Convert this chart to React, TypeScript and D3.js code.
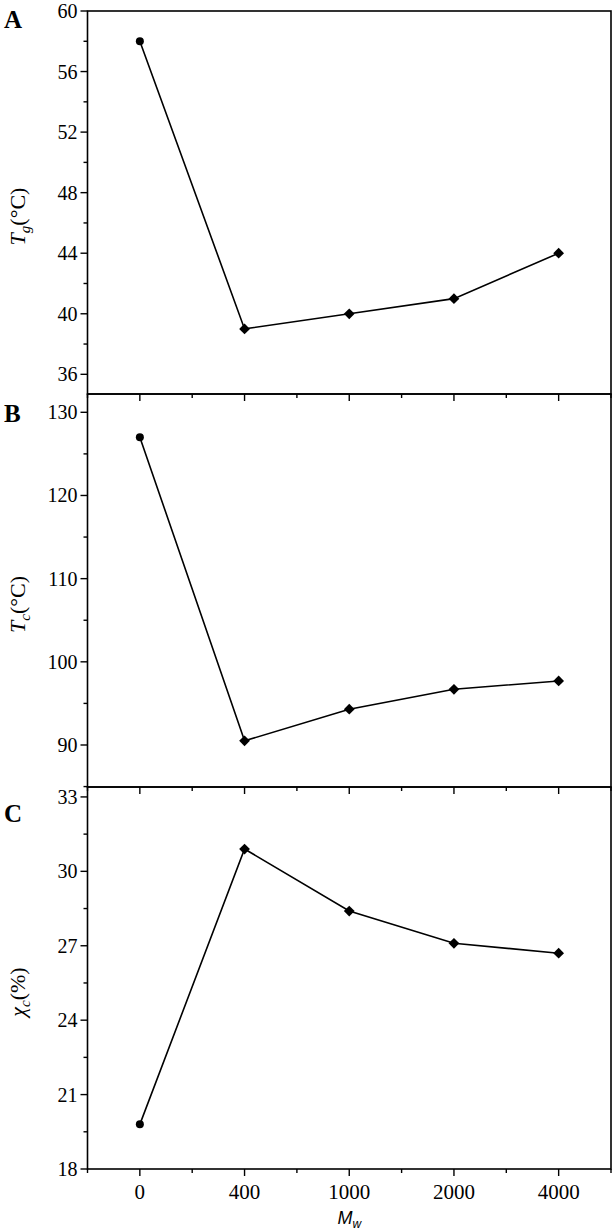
import React from "react";
import * as d3 from "d3";

const categories = ["0", "400", "1000", "2000", "4000"];
const tgValues = [58, 39, 40, 41, 44];
const tcValues = [127, 90.5, 94.3, 96.7, 97.7];
const xcValues = [19.8, 30.9, 28.4, 27.1, 26.7];
const tgTicks = [36, 40, 44, 48, 52, 56, 60];
const tcTicks = [90, 100, 110, 120, 130];
const xcTicks = [18, 21, 24, 27, 30, 33];

const W = 615;
const H = 1232;
const LEFT = 87.5;
const RIGHT = 611;
const FONT = "'Liberation Serif', 'Times New Roman', serif";

type Panel = {
  letter: string;
  values: number[];
  ticks: number[];
  minorStep: number;
  domain: [number, number];
  top: number;
  bottom: number;
  title: string;
  sub: string;
  unit: string;
  showLabels: boolean;
  letterY: number;
};

const panels: Panel[] = [
  { letter: "A", values: tgValues, ticks: tgTicks, minorStep: 2, domain: [34.7, 60], top: 11, bottom: 394, title: "T", sub: "g", unit: "(°C)", showLabels: false, letterY: 28 },
  { letter: "B", values: tcValues, ticks: tcTicks, minorStep: 5, domain: [84.95, 132.2], top: 394, bottom: 787, title: "T", sub: "c", unit: "(°C)", showLabels: false, letterY: 422 },
  { letter: "C", values: xcValues, ticks: xcTicks, minorStep: 1.5, domain: [18, 33.4], top: 787, bottom: 1169, title: "χ", sub: "c", unit: "(%)", showLabels: true, letterY: 822 },
];

const x = d3.scaleLinear().domain([-0.5, categories.length - 0.5]).range([LEFT, RIGHT]);

function PanelView({ p }: { p: Panel }) {
  const y = d3.scaleLinear().domain(p.domain).range([p.bottom, p.top]);
  const minor: number[] = [];
  for (let v = p.ticks[0] - p.minorStep; v <= p.domain[1] + 1e-6; v += p.minorStep) {
    if (v >= p.domain[0] - 1e-6 && !p.ticks.some((t) => Math.abs(t - v) < 1e-6)) minor.push(v);
  }
  const xMajor = categories.map((_, i) => i);
  const xMinor = d3.range(-0.5, categories.length, 1);
  const line = d3
    .line<number>()
    .x((_, i) => x(i))
    .y((d) => y(d));
  const midY = (p.top + p.bottom) / 2 + 14;
  const square = d3.symbol().type(d3.symbolSquare).size(58)();
  return (
    <g>
      <rect x={LEFT} y={p.top} width={RIGHT - LEFT} height={p.bottom - p.top} fill="none" stroke="#000" strokeWidth={1.6} />
      {p.ticks.map((t) => (
        <g key={"t" + t}>
          <line x1={LEFT - 7} x2={LEFT} y1={y(t)} y2={y(t)} stroke="#000" strokeWidth={1.4} />
          <text x={LEFT - 10} y={y(t)} dy="0.35em" textAnchor="end" fontFamily={FONT} fontSize={20}>
            {t}
          </text>
        </g>
      ))}
      {minor.map((t) => (
        <line key={"m" + t} x1={LEFT - 4} x2={LEFT} y1={y(t)} y2={y(t)} stroke="#000" strokeWidth={1.4} />
      ))}
      {xMajor.map((i) => (
        <line key={"xm" + i} x1={x(i)} x2={x(i)} y1={p.bottom} y2={p.bottom + 7} stroke="#000" strokeWidth={1.4} />
      ))}
      {xMinor.map((v) => (
        <line key={"xn" + v} x1={x(v)} x2={x(v)} y1={p.bottom} y2={p.bottom + 4} stroke="#000" strokeWidth={1.4} />
      ))}
      {p.showLabels &&
        categories.map((c, i) => (
          <text key={"xl" + c} x={x(i)} y={p.bottom + 30} textAnchor="middle" fontFamily={FONT} fontSize={21}>
            {c}
          </text>
        ))}
      <path d={line(p.values) || ""} fill="none" stroke="#000" strokeWidth={1.6} />
      {p.values.map((v, i) =>
        i === 0 ? (
          <circle key={"pt" + i} cx={x(i)} cy={y(v)} r={4} fill="#000" />
        ) : (
          <path key={"pt" + i} d={square || ""} transform={`translate(${x(i)},${y(v)}) rotate(45)`} fill="#000" />
        )
      )}
      <text transform={`translate(25,${midY}) rotate(-90)`} textAnchor="middle" fontFamily={FONT} fontSize={22}>
        <tspan fontStyle="italic">{p.title}</tspan>
        <tspan fontStyle="italic" fontSize={15} dy={5}>
          {p.sub}
        </tspan>
        <tspan dy={-5}>{p.unit}</tspan>
      </text>
      <text x={4} y={p.letterY} fontFamily={FONT} fontSize={25} fontWeight="bold">
        {p.letter}
      </text>
    </g>
  );
}

export default function App() {
  return (
    <svg width={W} height={H} style={{ position: "absolute", left: 0, top: 0, background: "#fff" }}>
      <rect width={W} height={H} fill="#fff" />
      {panels.map((p) => (
        <PanelView key={p.letter} p={p} />
      ))}
      <text x={x(2)} y={1224} textAnchor="middle" fontFamily="'Liberation Sans', Arial, sans-serif" fontSize={18} fontStyle="italic">
        M
        <tspan fontSize={12} dy={4}>
          w
        </tspan>
      </text>
    </svg>
  );
}
